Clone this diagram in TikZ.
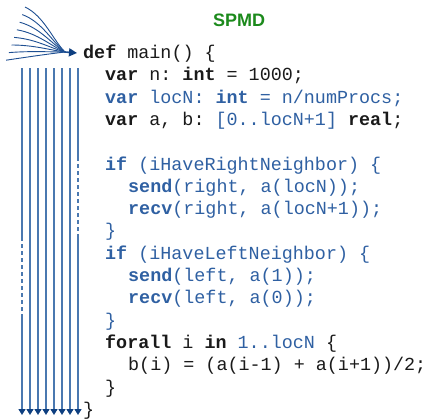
\documentclass[tikz,border=0pt]{standalone}
\usepackage{fontspec}
\setmainfont{Liberation Sans}
\setmonofont{Liberation Mono}
\usetikzlibrary{arrows.meta}
\definecolor{codeblue}{HTML}{2F60A2}
\definecolor{codeblack}{HTML}{1A1A1A}
\definecolor{lineblue}{HTML}{4A78B0}
\definecolor{tipblue}{HTML}{0E3F80}
\definecolor{fanblue}{HTML}{1E4F92}
\definecolor{spmdgreen}{HTML}{1C8A1C}
\tikzset{
  codeline/.style={anchor=base west, inner sep=0pt, font=\ttfamily\fontsize{18.4}{22}\selectfont, text=codeblack},
  bluecode/.style={codeline, text=codeblue},
  fanline/.style={draw=fanblue, line width=0.9pt},
  procline/.style={draw=lineblue, line width=1.4pt},
  procdash/.style={procline, dash pattern=on 4pt off 3pt},
  proctip/.style={-{Triangle[length=6pt,width=7pt,color=tipblue]}},
  title/.style={inner sep=0pt, font=\bfseries\fontsize{18}{20}\selectfont, text=spmdgreen}
}
\begin{document}
\begin{tikzpicture}[x=1pt,y=-1pt]
\useasboundingbox (0,0) rectangle (428,418);
\node[title] (spmd) at (239,20) {SPMD};
% code lines
\def\bl#1{\fpeval{53+22.3*#1+5.5}}
\node[codeline] (l0) at (83,{\bl{0}}) {\textbf{def} main() \{};
\node[codeline] (l1) at (105,{\bl{1}}) {\textbf{var} n: \textbf{int} = 1000;};
\node[bluecode] (l2) at (105,{\bl{2}}) {\textbf{var} locN: \textbf{int} = n/numProcs;};
\node[codeline] (l3) at (105,{\bl{3}}) {\textbf{var} a, b: {\color{codeblue}[0..locN+1]} \textbf{real};};
\node[bluecode] (l5) at (105,{\bl{5}}) {\textbf{if} (iHaveRightNeighbor) \{};
\node[bluecode] (l6) at (128,{\bl{6}}) {\textbf{send}(right, a(locN));};
\node[bluecode] (l7) at (128,{\bl{7}}) {\textbf{recv}(right, a(locN+1));};
\node[bluecode] (l8) at (105,{\bl{8}}) {\}};
\node[bluecode] (l9) at (105,{\bl{9}}) {\textbf{if} (iHaveLeftNeighbor) \{};
\node[bluecode] (l10) at (128,{\bl{10}}) {\textbf{send}(left, a(1));};
\node[bluecode] (l11) at (128,{\bl{11}}) {\textbf{recv}(left, a(0));};
\node[bluecode] (l12) at (105,{\bl{12}}) {\}};
\node[codeline] (l13) at (105,{\bl{13}}) {\textbf{forall} i \textbf{in} {\color{codeblue}1..locN} \{};
\node[codeline] (l14) at (128,{\bl{14}}) {b(i) = (a(i-1) + a(i+1))/2;};
\node[codeline] (l15) at (105,{\bl{15}}) {\}};
\node[codeline] (l16) at (83,{\bl{16}}) {\}};
% fan of processes converging on main
\coordinate (fanend) at (65,52);
\coordinate (fantip) at (77,53);
\foreach \t in {0,...,7}{
  \coordinate (fs\t) at ({25-2.7*\t},{7+7.6*\t});
  \coordinate (fa\t) at ({44-2.0*\t},{16+5.8*\t});
  \coordinate (fb\t) at ({53-0.7*\t},{40+2.0*\t});
  \draw[fanline] (fs\t) .. controls (fa\t) and (fb\t) .. (fanend);
}
\draw[fanline, line width=1.6pt, -{Triangle[length=8pt,width=8pt,color=tipblue]}] (fanend) -- (fantip);
% vertical process lines
\foreach \i in {0,...,7}{
  \coordinate (pa\i) at ({22+8*\i},68);
  \coordinate (pb\i) at ({22+8*\i},156.8);
  \coordinate (pc\i) at ({22+8*\i},157.4);
  \coordinate (pd\i) at ({22+8*\i},236.8);
  \coordinate (pe\i) at ({22+8*\i},237.4);
  \coordinate (pf\i) at ({22+8*\i},316.8);
  \coordinate (pg\i) at ({22+8*\i},317.4);
  \coordinate (ph\i) at ({22+8*\i},415);
  \draw[procline] (pa\i) -- (pb\i);
  \draw[procline, proctip] (pg\i) -- (ph\i);
}
\foreach \i in {0,...,6}{ \draw[procline] (pc\i) -- (pd\i); }
\draw[procdash] (pc7) -- (pd7);
\foreach \i in {1,...,7}{ \draw[procline] (pe\i) -- (pf\i); }
\draw[procdash] (pe0) -- (pf0);
\end{tikzpicture}
\end{document}
